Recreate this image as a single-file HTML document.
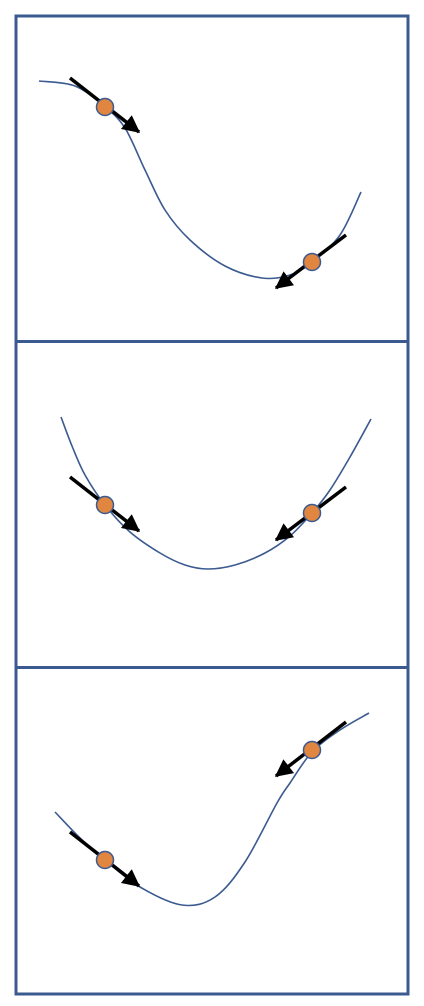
<!DOCTYPE html>
<html><head><meta charset="utf-8"><style>
html,body{margin:0;padding:0;background:#fff;width:424px;height:1006px;overflow:hidden}
svg{display:block}
</style></head><body>
<svg id="fig" width="424" height="1006" viewBox="0 0 424 1006">
<defs><marker id="ah" markerWidth="5" markerHeight="5" refX="4.6" refY="2.5" orient="auto" markerUnits="strokeWidth"><path d="M0,0 L5,2.5 L0,5 Z" fill="#000"/></marker></defs>
<rect x="16" y="16" width="392" height="978" fill="none" stroke="#3B5A8F" stroke-width="3"/>
<line x1="16" y1="341.5" x2="408" y2="341.5" stroke="#3B5A8F" stroke-width="3"/>
<line x1="16" y1="667.5" x2="408" y2="667.5" stroke="#3B5A8F" stroke-width="3"/>
<g id="layer"></g>
</svg>
<script>
const curve1X=[39,75,105,125,145,165,190,225,262,290,312,340,361];
const curve1Y=[81,86,107,128,170,210,240,266,278,275,262,235,192];
const curve2X=[61,72,85,105,130,160,185,208,235,265,290,312,330,350,371];
const curve2Y=[417,446,475,505,532,553,565,569,565,553,536,513,490,457,419];
const curve3X=[55,80,105,140,182,215,245,277,290,312,340,369];
const curve3Y=[812,838,860,887,905,897,862,803,783,752,730,713];
const ballX=[105,312,105,312,105,312];
const ballY=[107,262,505,513,860,750];
const arrowX1=[70,346,70,346,70,346];
const arrowY1=[78,235,477,487,832,722];
const arrowX2=[139,276,139,276,139,276];
const arrowY2=[132,288,531,540,886,776];
const NS="http://www.w3.org/2000/svg";
const layer=document.getElementById('layer');
function smooth(xs,ys){
  let d="M"+xs[0]+","+ys[0];
  for(let i=0;i<xs.length-1;i++){
    const x0=xs[Math.max(i-1,0)],y0=ys[Math.max(i-1,0)];
    const x1=xs[i],y1=ys[i],x2=xs[i+1],y2=ys[i+1];
    const x3=xs[Math.min(i+2,xs.length-1)],y3=ys[Math.min(i+2,ys.length-1)];
    d+=" C"+(x1+(x2-x0)/6)+","+(y1+(y2-y0)/6)+" "+(x2-(x3-x1)/6)+","+(y2-(y3-y1)/6)+" "+x2+","+y2;
  }
  return d;
}
const curves=[[curve1X,curve1Y],[curve2X,curve2Y],[curve3X,curve3Y]];
curves.forEach((c,i)=>{
  const p=document.createElementNS(NS,'path');
  p.setAttribute('d',smooth(c[0],c[1]));
  p.setAttribute('fill','none');p.setAttribute('stroke','#3B5A8F');p.setAttribute('stroke-width','1.6');
  
  
  layer.appendChild(p);
});
for(let i=0;i<ballX.length;i++){
  const l=document.createElementNS(NS,'line');
  l.setAttribute('x1',arrowX1[i]);l.setAttribute('y1',arrowY1[i]);
  l.setAttribute('x2',arrowX2[i]);l.setAttribute('y2',arrowY2[i]);
  l.setAttribute('stroke','#000');l.setAttribute('stroke-width','3.5');
  l.setAttribute('marker-end','url(#ah)');
  
  
  layer.appendChild(l);
  const c=document.createElementNS(NS,'circle');
  c.setAttribute('cx',ballX[i]);c.setAttribute('cy',ballY[i]);c.setAttribute('r','8.5');
  c.setAttribute('fill','#E08641');c.setAttribute('stroke','#3B5A8F');c.setAttribute('stroke-width','1.5');
  
  
  layer.appendChild(c);
}
</script>
</body></html>
